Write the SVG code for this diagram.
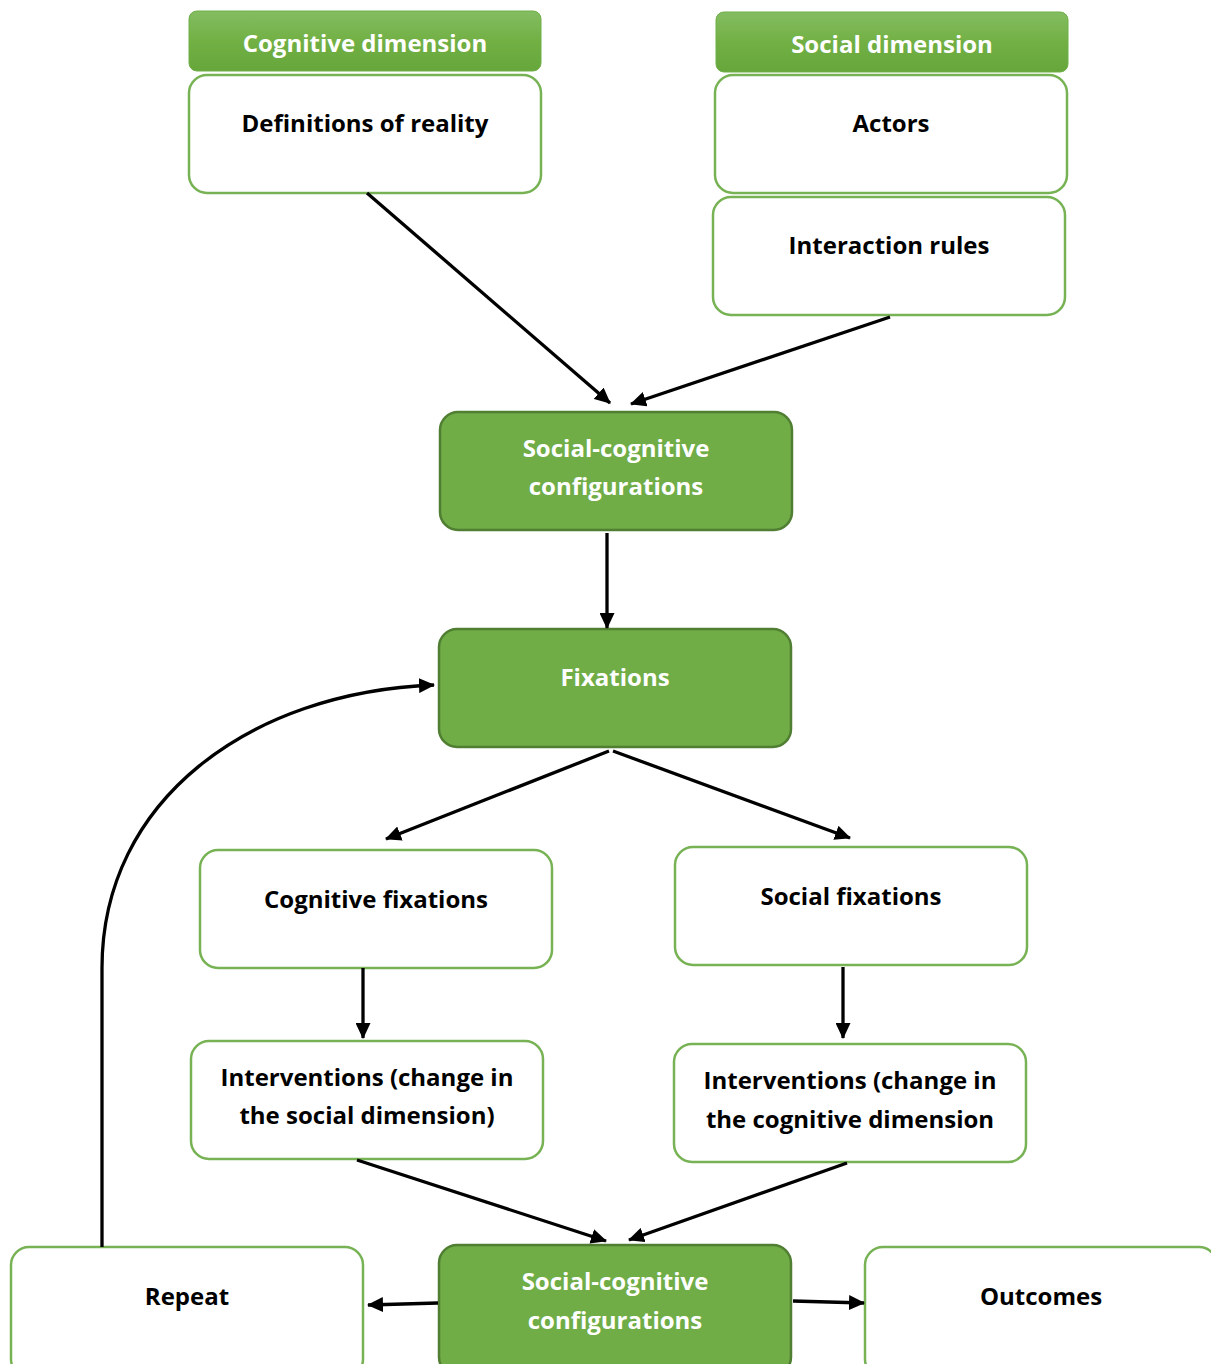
<svg xmlns="http://www.w3.org/2000/svg" width="1211" height="1364" viewBox="0 0 1211 1364">
<defs>
<linearGradient id="hg" x1="0" y1="0" x2="0" y2="1">
<stop offset="0" stop-color="#84bd62"/>
<stop offset="0.5" stop-color="#72b044"/>
<stop offset="1" stop-color="#66a63a"/>
</linearGradient>
<marker id="ah" viewBox="0 0 16 15" refX="15" refY="7.5" markerWidth="16" markerHeight="15" markerUnits="userSpaceOnUse" orient="auto">
<path d="M0,0 L16,7.5 L0,15 Z" fill="#000"/>
</marker>
<style>
.hdr{fill:url(#hg);stroke:#6fae47;stroke-width:1}
.wb{fill:#fff;stroke:#77b254;stroke-width:2.5}
.gb{fill:#70ad47;stroke:#507e32;stroke-width:2.5}
text{font-family:"Open Sans","Liberation Sans",sans-serif;font-weight:bold;font-size:24px;text-anchor:middle}
.wt{fill:#fff}
.bt{fill:#000}
.cn{fill:none;stroke:#000;stroke-width:3.3;marker-end:url(#ah)}
</style>
</defs>
<g id="cog-header"><rect class="hdr" x="189" y="11" width="352" height="60" rx="8"/><text class="wt" x="365" y="52">Cognitive dimension</text></g>
<g id="definitions"><rect class="wb" x="189" y="75" width="352" height="118" rx="18"/><text class="bt" x="365" y="132">Definitions of reality</text></g>
<g id="soc-header"><rect class="hdr" x="716" y="12" width="352" height="60" rx="8"/><text class="wt" x="892" y="53">Social dimension</text></g>
<g id="actors"><rect class="wb" x="715" y="75" width="352" height="118" rx="18"/><text class="bt" x="891" y="132">Actors</text></g>
<g id="interaction"><rect class="wb" x="713" y="197" width="352" height="118" rx="18"/><text class="bt" x="889" y="254">Interaction rules</text></g>
<g id="scc1"><rect class="gb" x="440" y="412" width="352" height="118" rx="18"/><text class="wt" x="616" y="457">Social-cognitive</text><text class="wt" x="616" y="495">configurations</text></g>
<g id="fixations"><rect class="gb" x="439" y="629" width="352" height="118" rx="18"/><text class="wt" x="615" y="686">Fixations</text></g>
<g id="cog-fix"><rect class="wb" x="200" y="850" width="352" height="118" rx="18"/><text class="bt" x="376" y="908">Cognitive fixations</text></g>
<g id="soc-fix"><rect class="wb" x="675" y="847" width="352" height="118" rx="18"/><text class="bt" x="851" y="905">Social fixations</text></g>
<g id="int-left"><rect class="wb" x="191" y="1041" width="352" height="118" rx="18"/><text class="bt" x="367" y="1086">Interventions (change in</text><text class="bt" x="367" y="1124">the social dimension)</text></g>
<g id="int-right"><rect class="wb" x="674" y="1044" width="352" height="118" rx="18"/><text class="bt" x="850" y="1089">Interventions (change in</text><text class="bt" x="850" y="1128">the cognitive dimension</text></g>
<g id="scc2"><rect class="gb" x="439" y="1245" width="352" height="130" rx="18"/><text class="wt" x="615" y="1290">Social-cognitive</text><text class="wt" x="615" y="1329">configurations</text></g>
<g id="repeat"><rect class="wb" x="11" y="1247" width="352" height="130" rx="18"/><text class="bt" x="187" y="1305">Repeat</text></g>
<g id="outcomes"><rect class="wb" x="865" y="1247" width="352" height="130" rx="18"/><text class="bt" x="1041" y="1305">Outcomes</text></g>
<g id="connectors">
<path class="cn" d="M367,193 L610,403"/>
<path class="cn" d="M890,317 L631,404"/>
<path class="cn" d="M607,533 L607,628"/>
<path class="cn" d="M609,751 L386,839"/>
<path class="cn" d="M613,751 L850,838"/>
<path class="cn" d="M363,968 L363,1038"/>
<path class="cn" d="M843,967 L843,1038"/>
<path class="cn" d="M357,1160 L606,1241"/>
<path class="cn" d="M847,1163 L629,1240"/>
<path class="cn" d="M438,1303 L368,1305"/>
<path class="cn" d="M793,1301 L864,1303"/>
<path class="cn" d="M102,1247 L102,968 C102,800 250,692 434,685"/>
</g>
</svg>
